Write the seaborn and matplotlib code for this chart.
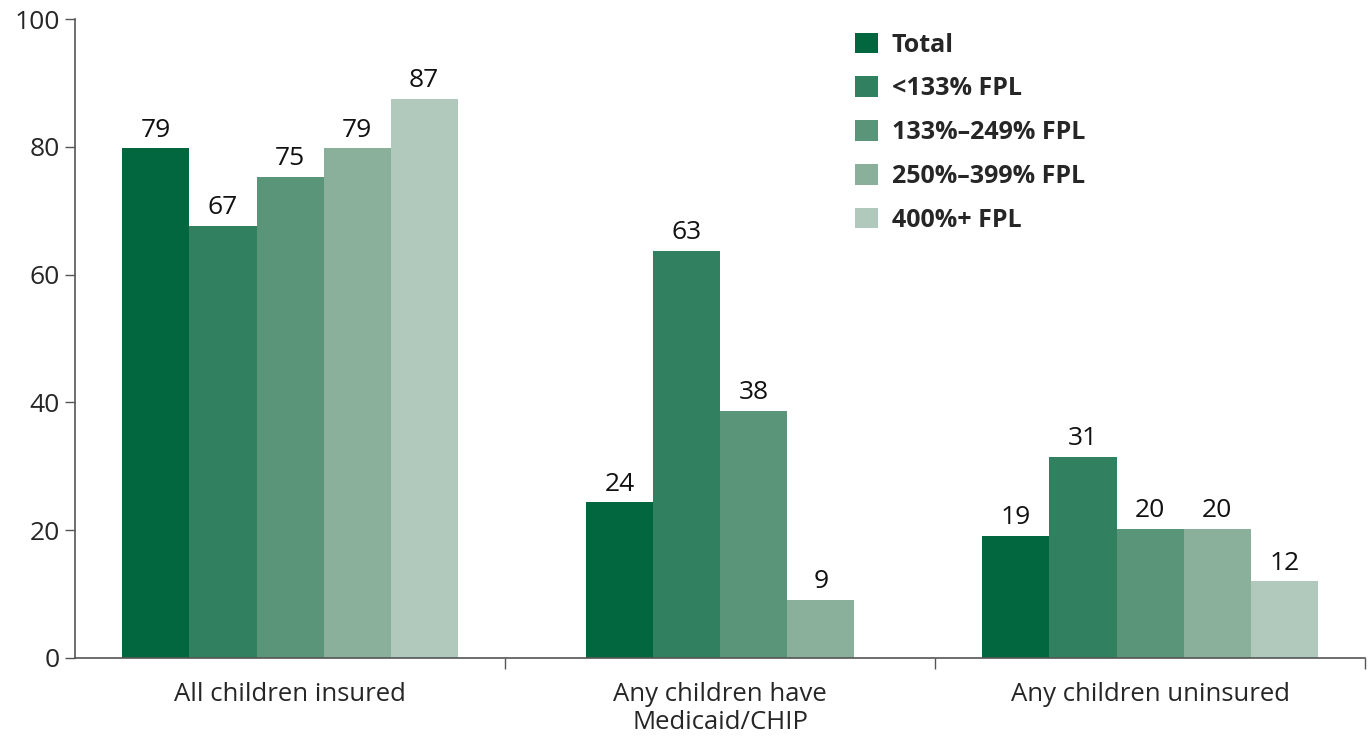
import pandas as pd
import matplotlib.pyplot as plt
import seaborn as sns
import numpy as np

# categories and series
categories = ['All children insured', 'Any children have\nMedicaid/CHIP', 'Any children uninsured']
groups = ['Total', '<133% FPL', '133%\u2013249% FPL', '250%\u2013399% FPL', '400%+ FPL']

# bar heights (per group, per category)
total = [79.8, 24.4, 19.1]
fpl_lt133 = [67.6, 63.7, 31.5]
fpl_133_249 = [75.3, 38.7, 20.2]
fpl_250_399 = [79.8, 9.1, 20.2]
fpl_400 = [87.5, np.nan, 12.0]

# printed labels
lab_total = ['79', '24', '19']
lab_lt133 = ['67', '63', '31']
lab_133_249 = ['75', '38', '20']
lab_250_399 = ['79', '9', '20']
lab_400 = ['87', '', '12']

colors = ['#02673e', '#318060', '#5a9579', '#8ab09b', '#b1c9bc']

series = [total, fpl_lt133, fpl_133_249, fpl_250_399, fpl_400]
labels = [lab_total, lab_lt133, lab_133_249, lab_250_399, lab_400]
rows = []
for g, vals, labs in zip(groups, series, labels):
    for c, v, l in zip(categories, vals, labs):
        rows.append({'Category': c, 'Group': g, 'Value': v, 'Label': l})
df = pd.DataFrame(rows).dropna(subset=['Value'])

sns.set_style('white')
plt.rcParams['font.family'] = ['Open Sans', 'DejaVu Sans']

fig = plt.figure(figsize=(13.72, 7.46), dpi=100)
ax = fig.add_axes([0.0547, 0.118, 0.9403, 0.8565])

bar_w = 0.78
sns.barplot(data=df, x='Category', y='Value', hue='Group', order=categories,
            hue_order=groups, palette=colors, width=bar_w, saturation=1,
            errorbar=None, ax=ax, linewidth=0)

# center the bars of categories that have fewer than 5 bars
n_per_cat = df.groupby('Category').size().reindex(categories)
for cont in ax.containers:
    for bar in cont:
        ci = int(round(bar.get_x() + bar.get_width() / 2))
        missing = len(groups) - n_per_cat.iloc[ci]
        if missing:
            bar.set_x(bar.get_x() + missing * bar.get_width() / 2)

for cont, g in zip(ax.containers, groups):
    sub = df[df['Group'] == g].set_index('Category').reindex(categories).dropna(subset=['Value'])
    ax.bar_label(cont, labels=list(sub['Label']), padding=4, fontsize=19, color='#111111')

ax.set_ylim(0, 100)
ax.set_xlim(-0.5, 2.5)
ax.set_yticks(range(0, 101, 20))
ax.tick_params(axis='y', labelsize=19, length=7, width=1, color='#555555', pad=4, left=True)
ax.set_xticks([0, 1, 2])
ax.set_xticklabels(categories, fontsize=18.5)
ax.tick_params(axis='x', length=0, pad=17)
ax.set_xticks([0.5, 1.5, 2.5], minor=True)
ax.tick_params(axis='x', which='minor', length=8, width=1, color='#555555', bottom=True)
ax.set_xlabel('')
ax.set_ylabel('')
for s in ['top', 'right']:
    ax.spines[s].set_visible(False)
for s in ['left', 'bottom']:
    ax.spines[s].set_color('#555555')
    ax.spines[s].set_linewidth(1.2)

leg = ax.legend(loc='upper left', bbox_to_anchor=(0.5875, 1.014), frameon=False,
                prop={'weight': 'bold', 'size': 18}, handlelength=0.9, handleheight=0.9,
                labelspacing=0.75, handletextpad=0.55)

fig.savefig('out.png', dpi=100)
